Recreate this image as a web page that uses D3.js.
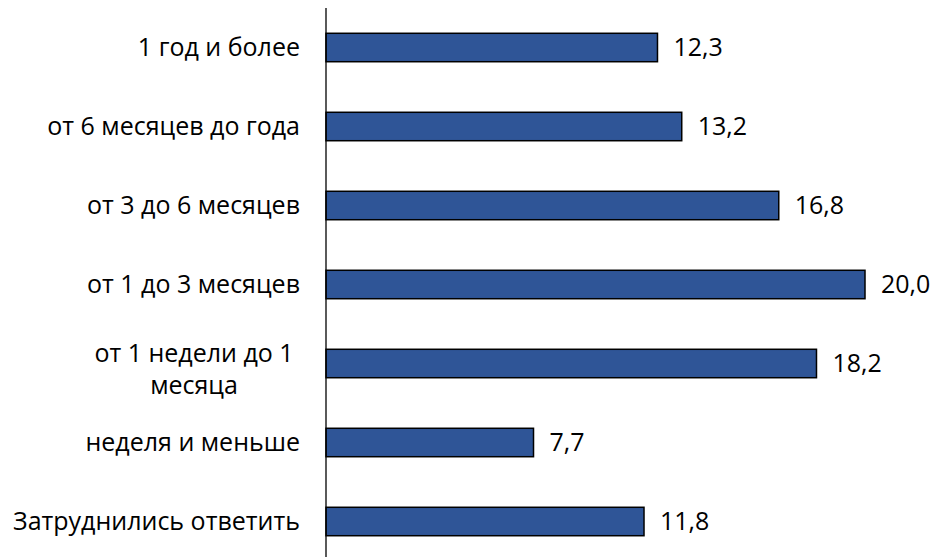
<!DOCTYPE html>
<html>
<head>
<meta charset="utf-8">
<script src="https://cdn.jsdelivr.net/npm/d3@7"></script>
<style>
  body { margin: 0; background: #fff; }
  text { font-family: "Open Sans", sans-serif; fill: #000; }
</style>
</head>
<body>
<div id="chart-area"></div>
<script>
let categories = [
  "1 год и более",
  "от 6 месяцев до года",
  "от 3 до 6 месяцев",
  "от 1 до 3 месяцев",
  "от 1 недели до 1 месяца",
  "неделя и меньше",
  "Затруднились ответить"
];
let values = [12.3, 13.2, 16.8, 20.0, 18.2, 7.7, 11.8];

let labelLines = {
  "от 1 недели до 1 месяца": ["от 1 недели до 1", "месяца"]
};

let fontSize = "25px";

let margin = { left: 326, right: 10, top: 8, bottom: 0 };
let width = 936 - margin.left - margin.right;
let height = 561 - margin.top - margin.bottom;

let svg = d3.select("#chart-area")
  .append("svg")
  .attr("width", 936)
  .attr("height", 557);

let g = svg.append("g")
  .attr("transform", "translate(" + margin.left + "," + margin.top + ")");

let y = d3.scaleBand()
  .domain(categories)
  .range([0, height])
  .paddingInner(0.64)
  .paddingOuter(0.32);

let x = d3.scaleLinear()
  .domain([0, 20])
  .range([0, 539]);

// bars
g.selectAll("rect")
  .data(values)
  .enter()
  .append("rect")
  .attr("x", 0)
  .attr("y", (d, i) => y(categories[i]))
  .attr("width", d => x(d))
  .attr("height", y.bandwidth())
  .attr("fill", "#2F5597")
  .attr("stroke", "#000")
  .attr("stroke-width", 1.5);

// value labels
g.selectAll(".val")
  .data(values)
  .enter()
  .append("text")
  .attr("class", "val")
  .attr("x", d => x(d) + 16)
  .attr("y", (d, i) => y(categories[i]) + y.bandwidth() / 2)
  .attr("dy", "0.35em")
  .attr("font-size", fontSize)
  .text(d => d3.format(".1f")(d).replace(".", ","));

// category axis
let yAxis = g.append("g")
  .attr("class", "y-axis")
  .call(d3.axisLeft(y).tickSize(0).tickPadding(26));
yAxis.select(".domain").attr("stroke", "#000").attr("stroke-width", 1.3)
  .attr("d", "M0,0V" + height);
yAxis.selectAll("text")
  .attr("font-size", fontSize)
  .attr("font-family", "Open Sans, sans-serif")
  .attr("fill", "#000")
  .each(function(d) {
    let lines = labelLines[d];
    if (!lines) return;
    let t = d3.select(this).text(null).attr("text-anchor", "middle").attr("x", -132).attr("dy", null);
    lines.forEach((l, i) => {
      t.append("tspan")
        .attr("x", -132)
        .attr("dy", i === 0 ? "-0.05em" : "1.25em")
        .text(l);
    });
  });
</script>
</body>
</html>
